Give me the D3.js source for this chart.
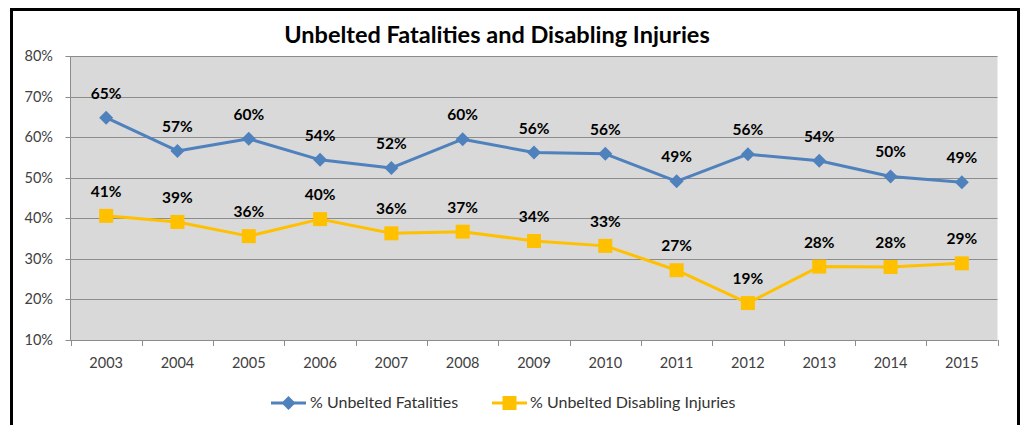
<!DOCTYPE html>
<html lang="en">
<head>
<meta charset="UTF-8">
<title>Unbelted Fatalities and Disabling Injuries</title>
<script src="https://d3js.org/d3.v7.min.js"></script>
<style>
  body { margin: 0; background: #fff; }
  text { font-family: Lato, "Open Sans", sans-serif; }
</style>
</head>
<body>
<script>
  // chart data
  var years = ["2003", "2004", "2005", "2006", "2007", "2008", "2009", "2010", "2011", "2012", "2013", "2014", "2015"]
  var fatalities = [64.8, 56.6, 59.6, 54.4, 52.4, 59.5, 56.2, 55.9, 49.1, 55.8, 54.2, 50.3, 48.9]
  var injuries = [40.6, 39.1, 35.6, 39.8, 36.3, 36.7, 34.4, 33.2, 27.2, 19.1, 28.1, 28.0, 28.9]
  var yTicks = [10, 20, 30, 40, 50, 60, 70, 80]
  var seriesNames = ["% Unbelted Fatalities", "% Unbelted Disabling Injuries"]

  var width = 1025, height = 425
  var blue = "#4F81BD", gold = "#FFC000"

  var svg = d3.select("body").append("svg")
    .attr("width", width)
    .attr("height", height)

  // outer frame (bottom edge runs off the picture)
  svg.append("path")
    .attr("d", "M11.5,440 V9.5 H1018.5 V440")
    .attr("fill", "none")
    .attr("stroke", "#000")
    .attr("stroke-width", 3)

  var plot = { left: 70.5, right: 997.5, top: 56, bottom: 340 }

  var x = d3.scaleBand().domain(years).range([plot.left, plot.right])
  var y = d3.scaleLinear().domain([10, 80]).range([plot.bottom, plot.top])

  svg.append("rect")
    .attr("x", plot.left).attr("y", plot.top)
    .attr("width", plot.right - plot.left).attr("height", plot.bottom - plot.top)
    .attr("fill", "#d9d9d9")

  // gridlines
  svg.append("g").selectAll("line").data(yTicks).enter().append("line")
    .attr("x1", plot.left - 5).attr("x2", plot.right)
    .attr("y1", d => Math.round(y(d)) + 0.5).attr("y2", d => Math.round(y(d)) + 0.5)
    .attr("stroke", "#8c8c8c").attr("stroke-width", 1)

  // left axis line
  svg.append("line")
    .attr("x1", plot.left).attr("x2", plot.left)
    .attr("y1", plot.top).attr("y2", plot.bottom)
    .attr("stroke", "#8c8c8c")

  // y labels
  svg.append("g").selectAll("text").data(yTicks).enter().append("text")
    .attr("x", 53).attr("y", d => y(d) + 5)
    .attr("text-anchor", "end")
    .attr("font-size", 14.5)
    .attr("fill", "#404040")
    .text(d => d + "%")

  // x axis ticks at category boundaries
  var bounds = years.map(d => x(d)).concat([plot.right])
  svg.append("g").selectAll("line").data(bounds).enter().append("line")
    .attr("x1", d => Math.round(d) + 0.5).attr("x2", d => Math.round(d) + 0.5)
    .attr("y1", plot.bottom).attr("y2", plot.bottom + 6)
    .attr("stroke", "#8c8c8c")

  svg.append("g").selectAll("text").data(years).enter().append("text")
    .attr("x", d => x(d) + x.bandwidth() / 2)
    .attr("y", 368)
    .attr("text-anchor", "middle")
    .attr("font-size", 14.5)
    .attr("fill", "#404040")
    .text(d => d)

  // title
  svg.append("text")
    .attr("x", 497).attr("y", 43)
    .attr("text-anchor", "middle")
    .attr("font-size", 23.5)
    .attr("font-weight", "bold")
    .attr("fill", "#000")
    .text("Unbelted Fatalities and Disabling Injuries")

  var cx = d => x(d) + x.bandwidth() / 2
  var line = d3.line().x((d, i) => cx(years[i])).y(d => y(d))

  function drawSeries(values, color, shape) {
    svg.append("path")
      .datum(values)
      .attr("d", line)
      .attr("fill", "none")
      .attr("stroke", color)
      .attr("stroke-width", 3)
      .attr("stroke-linejoin", "round")

    svg.append("g").selectAll("path").data(values).enter().append("path")
      .attr("transform", (d, i) => "translate(" + cx(years[i]) + "," + y(d) + ")")
      .attr("d", shape)
      .attr("fill", color)

    svg.append("g").selectAll("text").data(values).enter().append("text")
      .attr("x", (d, i) => cx(years[i]))
      .attr("y", d => y(d) - 19)
      .attr("text-anchor", "middle")
      .attr("font-size", 15.5)
      .attr("font-weight", "bold")
      .attr("fill", "#000")
      .text(d => Math.round(d) + "%")
  }

  var diamond = "M0,-7 L7,0 L0,7 L-7,0 Z"
  var square = "M-7,-7 H7 V7 H-7 Z"

  drawSeries(fatalities, blue, diamond)
  drawSeries(injuries, gold, square)

  // legend
  var legend = [
    { name: seriesNames[0], color: blue, shape: diamond, x0: 271, tx: 310 },
    { name: seriesNames[1], color: gold, shape: square, x0: 492, tx: 530 }
  ]
  var lg = svg.append("g").selectAll("g").data(legend).enter().append("g")
  lg.append("line")
    .attr("x1", d => d.x0).attr("x2", d => d.x0 + 35)
    .attr("y1", 403).attr("y2", 403)
    .attr("stroke", d => d.color).attr("stroke-width", 3)
  lg.append("path")
    .attr("transform", d => "translate(" + (d.x0 + 17.5) + ",403)")
    .attr("d", d => d.shape)
    .attr("fill", d => d.color)
  lg.append("text")
    .attr("x", d => d.tx).attr("y", 408)
    .attr("font-size", 16)
    .attr("fill", "#333")
    .text(d => d.name)
</script>
</body>
</html>
